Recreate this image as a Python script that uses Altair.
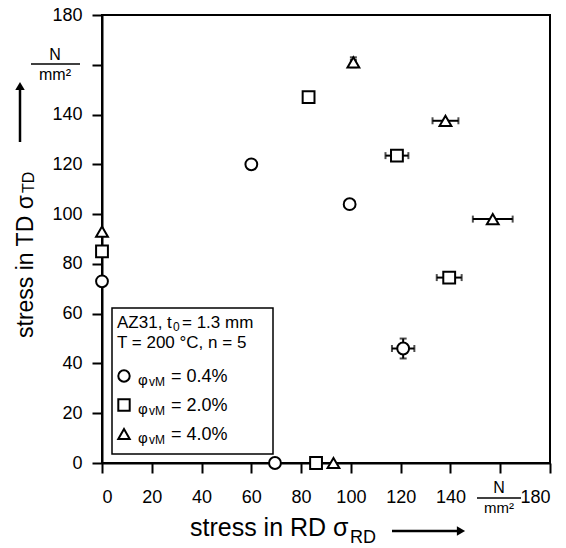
import altair as alt
import pandas as pd

FONT = "Liberation Sans"
OX, OY = 102, 15  # plot-area origin inside the page (padding)

# ---- data ----
series = ["0.4%"] * 5 + ["2.0%"] * 5 + ["4.0%"] * 5
stress_rd = [0, 60, 99.5, 121, 69.5, 0, 83, 118.5, 139.5, 86, 0, 101, 138, 157, 93]
stress_td = [73, 120, 104, 46, 0, 85, 147, 123.5, 74.5, 0, 93, 161, 137.5, 98, 0]
rd_err = [0, 1.5, 2, 4.5, 0, 0, 0, 4.6, 5, 0, 0, 1, 5.2, 8, 0]
td_err = [0, 0, 0, 4, 0, 0, 0, 0, 0, 0, 0, 2, 0, 0, 0]

series_order = ["0.4%", "2.0%", "4.0%"]
series_shapes = ["circle", "square", "triangle-up"]
tick_values = [0, 20, 40, 60, 80, 100, 120, 140, 160, 180]

df = pd.DataFrame({"series": series, "rd": stress_rd, "td": stress_td,
                   "xe": rd_err, "ye": td_err})
df["xlo"] = df["rd"] - df["xe"]
df["xhi"] = df["rd"] + df["xe"]
df["ylo"] = df["td"] - df["ye"]
df["yhi"] = df["td"] + df["ye"]

xs = alt.Scale(domain=[0, 180], nice=False, zero=False)
ys = alt.Scale(domain=[0, 180], nice=False, zero=False)

axis_common = dict(values=tick_values, labelExpr="datum.value == 160 ? '' : datum.label",
                   grid=False, tickSize=10, tickWidth=2, tickColor="black",
                   domainColor="black", domainWidth=2, labelFont=FONT, labelFontSize=18,
                   labelColor="black", title=None)
x_axis = alt.Axis(labelPadding=15, **axis_common)
y_axis = alt.Axis(labelPadding=10, **axis_common)

base = alt.Chart(df)

axes_layer = base.mark_point(opacity=0).encode(
    x=alt.X("rd:Q", scale=xs, axis=x_axis),
    y=alt.Y("td:Q", scale=ys, axis=y_axis),
)

xerr = base.transform_filter("datum.xe > 0")
yerr = base.transform_filter("datum.ye > 0")

xbar = xerr.mark_rule(color="black", strokeWidth=2).encode(
    x=alt.X("xlo:Q", scale=xs), x2="xhi:Q", y=alt.Y("td:Q", scale=ys))
xcap_lo = xerr.mark_tick(orient="vertical", color="black", size=7, thickness=2).encode(
    x=alt.X("xlo:Q", scale=xs), y=alt.Y("td:Q", scale=ys))
xcap_hi = xerr.mark_tick(orient="vertical", color="black", size=7, thickness=2).encode(
    x=alt.X("xhi:Q", scale=xs), y=alt.Y("td:Q", scale=ys))
ybar = yerr.mark_rule(color="black", strokeWidth=2).encode(
    x=alt.X("rd:Q", scale=xs), y=alt.Y("ylo:Q", scale=ys), y2="yhi:Q")
ycap_lo = yerr.mark_tick(orient="horizontal", color="black", size=7, thickness=2).encode(
    x=alt.X("rd:Q", scale=xs), y=alt.Y("ylo:Q", scale=ys))
ycap_hi = yerr.mark_tick(orient="horizontal", color="black", size=7, thickness=2).encode(
    x=alt.X("rd:Q", scale=xs), y=alt.Y("yhi:Q", scale=ys))

points = base.mark_point(filled=True, fill="white", stroke="black", strokeWidth=2,
                         size=140, opacity=1).encode(
    x=alt.X("rd:Q", scale=xs),
    y=alt.Y("td:Q", scale=ys),
    shape=alt.Shape("series:N", scale=alt.Scale(domain=series_order, range=series_shapes),
                    legend=None),
)

one = pd.DataFrame({"a": [0]})


def txt(s, x, y, size=16, align="left", baseline="alphabetic", angle=0):
    kw = dict(text=s, font=FONT, fontSize=size, align=align, baseline=baseline, color="black")
    if angle:
        kw["angle"] = angle
    return alt.Chart(one).mark_text(**kw).encode(x=alt.value(x - OX), y=alt.value(y - OY))


def hline(x1, x2, y, w=1.5):
    return alt.Chart(one).mark_rule(color="black", strokeWidth=w).encode(
        x=alt.value(x1 - OX), x2=alt.value(x2 - OX), y=alt.value(y - OY))


def vline(x, y1, y2, w=1.5):
    return alt.Chart(one).mark_rule(color="black", strokeWidth=w).encode(
        x=alt.value(x - OX), y=alt.value(y1 - OY), y2=alt.value(y2 - OY))


def sym(shape, x, y, size, fill, sw=0):
    return alt.Chart(one).mark_point(shape=shape, filled=True, fill=fill, stroke="black",
                                     strokeWidth=sw, size=size, opacity=1).encode(
        x=alt.value(x - OX), y=alt.value(y - OY))


annot = []
# units on the axes
annot += [txt("N", 55, 60, 16, "center"), hline(31, 80, 64), txt("mm²", 55, 80, 16, "center")]
annot += [txt("N", 499, 493, 16, "center"), hline(477, 521, 498), txt("mm²", 499, 513, 15, "center")]

# x-axis title
annot += [txt("stress in RD σ", 190, 536, 25), txt("RD", 350, 543, 18),
          hline(392, 460, 531, 2.5), sym("triangle-right", 461, 531, 90, "black")]
# y-axis title (rotated)
annot += [txt("stress in TD σ", 33, 338, 23, angle=270), txt("TD", 34, 193, 16, angle=270),
          vline(20, 142, 90, 2.5), sym("triangle-up", 20, 86, 90, "black")]

# legend box
legend_box = alt.Chart(one).mark_rect(fill="white", stroke="black", strokeWidth=1.5).encode(
    x=alt.value(112 - OX), x2=alt.value(273 - OX), y=alt.value(308 - OY), y2=alt.value(454 - OY))
annot_legend = [legend_box,
                txt("AZ31, t", 117, 328, 17), txt("0", 173, 331, 12), txt("= 1.3 mm", 182, 328, 17),
                txt("T = 200 °C, n = 5", 117, 348, 17)]
legend_rows_y = [376, 405, 434]
legend_labels = ["= 0.4%", "= 2.0%", "= 4.0%"]
for shp, yy, lab in zip(series_shapes, legend_rows_y, legend_labels):
    annot_legend += [sym(shp, 124, yy, 130, "white", 2),
                     txt("φ", 138, yy + 9, 15), txt("vM", 149, yy + 10, 12),
                     txt(lab, 171, yy + 6, 18)]

chart = alt.layer(
    axes_layer, xbar, xcap_lo, xcap_hi, ybar, ycap_lo, ycap_hi,
    *annot_legend, points, *annot
).properties(
    width=448, height=448,
    padding={"left": OX, "top": OY, "right": 16, "bottom": 85},
    autosize=alt.AutoSizeParams(type="none"),
    background="white",
).configure_view(stroke="black", strokeWidth=2)

chart.save("out.html", embed_options={"renderer": "svg", "actions": False})
